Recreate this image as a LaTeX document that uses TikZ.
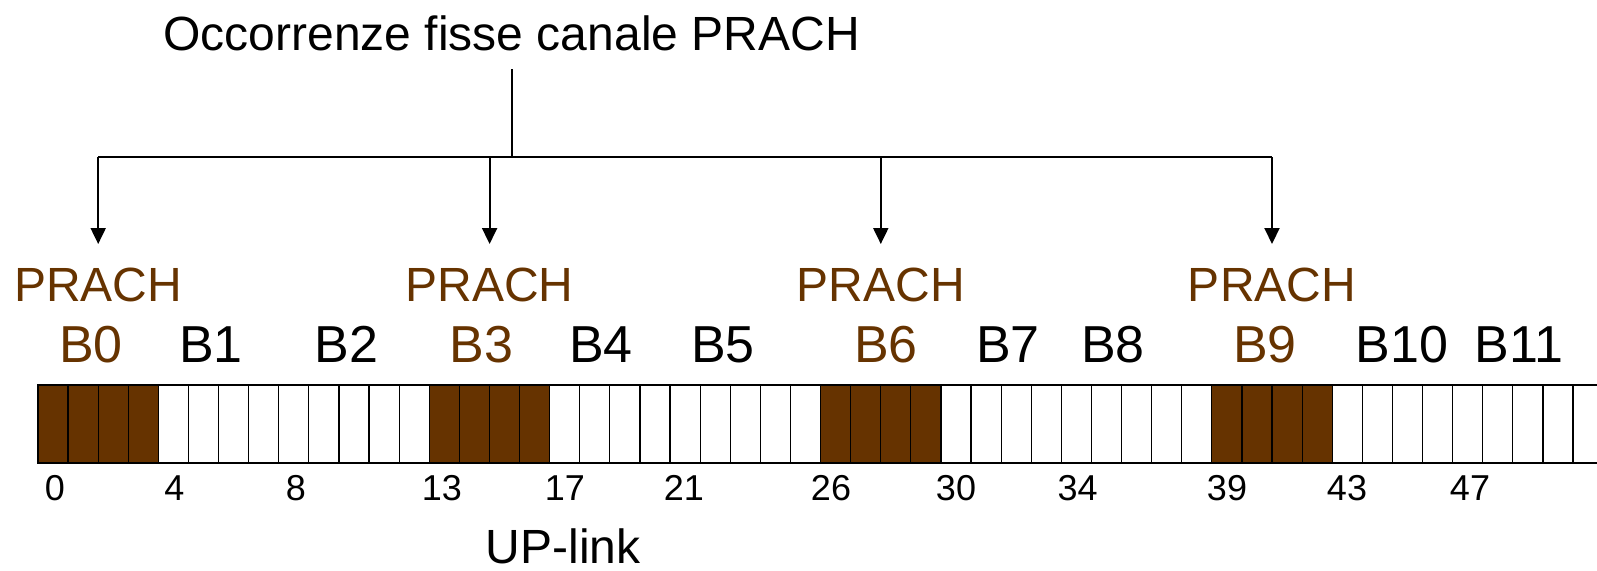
\documentclass[tikz,border=0pt]{standalone}
\usepackage{fontspec}
\setmainfont{Liberation Sans}
\usetikzlibrary{arrows.meta}
\definecolor{prbrown}{HTML}{663300}
\begin{document}
\begin{tikzpicture}[x=0.5pt,y=-0.5pt,
  big/.style={inner sep=0,anchor=base,font=\fontsize{24pt}{28pt}\selectfont},
  blk/.style={inner sep=0,anchor=base,font=\fontsize{26pt}{30pt}\selectfont},
  prl/.style={big,text=prbrown},
  num/.style={inner sep=0,anchor=base,font=\fontsize{18pt}{22pt}\selectfont},
  conn/.style={line width=1pt},
  arr/.style={conn,-{Triangle[width=7.5pt,length=8pt]}},
  cellline/.style={draw=black,line width=0.6pt}]
\useasboundingbox (0,0) rectangle (1597,570);
% title and connectors
\node[big] (title) at (511.7,50) {Occorrenze fisse canale PRACH};
\coordinate (top) at (512.3,69.3);
\coordinate (join) at (512.3,157.3);
\foreach \k/\x in {0/98.2,1/489.6,2/880.8,3/1272}{
  \coordinate (h\k) at (\x,157.3);
  \coordinate (a\k) at (\x,244);
}
\draw[conn] (top) -- (join);
\draw[conn] (h0) -- (h3);
\foreach \k in {0,1,2,3}{ \draw[arr] (h\k) -- (a\k); }
% PRACH labels
\node[prl] (p0) at (98.3,301.7) {PRACH};
\node[prl] (p1) at (489.6,301.7) {PRACH};
\node[prl] (p2) at (880.8,301.7) {PRACH};
\node[prl] (p3) at (1272,301.7) {PRACH};
% block labels
\foreach \n/\x/\c in {0/91/prbrown,1/210.8/black,2/346.3/black,3/481.7/prbrown,
  4/601/black,5/723/black,6/886/prbrown,7/1008/black,8/1113/black,
  9/1265/prbrown,10/1401.7/black,11/1519/black}{
  \node[blk,text=\c] (b\n) at (\x,362) {B\n};
}
% bar
\begin{scope}
\clip (0,0) rectangle (1597,570);
\foreach \s in {0,13,26,39}{
  \fill[prbrown] (37.9+30.1*\s,385) rectangle ++(120.4,78);
}
\foreach \i in {0,...,51}{
  \draw[cellline] (37.9+30.1*\i,385) rectangle ++(30.1,78);
}
\end{scope}
% frame numbers
\foreach \n/\x in {0/55,4/174.5,8/296,13/441.8,17/565,21/684,26/831,30/956,34/1077.6,39/1227,43/1347,47/1470}{
  \node[num] (n\n) at (\x,500) {\n};
}
\node[big] (uplink) at (563.3,563) {UP-link};
\end{tikzpicture}
\end{document}
